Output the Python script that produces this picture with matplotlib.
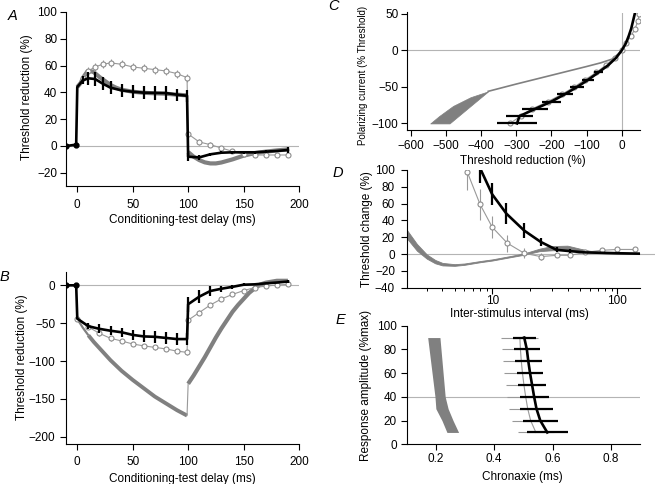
import numpy as np
import matplotlib
matplotlib.use('Agg')
import matplotlib.pyplot as plt
from matplotlib.ticker import NullFormatter

plt.rcParams['font.family'] = ['Liberation Sans', 'DejaVu Sans']
plt.rcParams['font.size'] = 8.5

# ---- panel A : depolarizing conditioning
a_x = [-10, -1, 0, 5, 10, 16, 23, 30, 40, 50, 60, 70, 80, 90, 99,
       100, 110, 120, 130, 140, 150, 160, 170, 180, 190]
a_black = [0, 1, 44, 49, 50.5, 50, 46.5, 43.5, 41.5, 40.5, 39.8, 39.6, 39.5, 38.3, 37.5,
           -8, -8.5, -6.2, -5, -4.7, -4.7, -4.7, -4.2, -3.7, -3]
a_black_err = [0, 0, 0, 3, 5, 5, 5, 5, 5, 5, 5, 5, 5, 4.5, 4.5,
               3, 2, 1, 1, 1, 1, 1, 1, 1, 2.5]
a_circ = [0, 0.5, 44, 51, 56, 59, 61, 62, 61, 59, 58, 57, 56, 54, 51,
          9, 3, 1, -1.5, -4, -6, -6.7, -6.7, -6.7, -6.7]
a_circ_err = [0, 0, 0, 2, 3, 3, 3, 3, 3, 3, 3, 3, 3, 3, 3,
              2, 2, 2, 1.5, 1.5, 1.5, 1.5, 1.5, 1.5, 1.5]
a_m1_x = [0, 3, 6, 9, 12, 15, 20, 25, 30, 35, 40, 50, 60, 70, 80, 90, 99]
a_m1_y = [44, 47, 52, 55.5, 56, 55, 51.5, 48.5, 45.5, 43.5, 42, 40.5, 39.7, 39.3, 39, 38.3, 37.8]
a_m2_x = [100, 105, 110, 115, 120, 125, 130, 140, 150, 160, 170, 180, 190]
a_m2_y = [-4.5, -8, -10.5, -12.2, -13, -13, -12.3, -10, -7.2, -5.3, -4.2, -3.3, -2.5]

# ---- panel B : hyperpolarizing conditioning
b_x = [-10, -1, 0, 10, 20, 30, 40, 50, 60, 70, 80, 90, 99,
       100, 110, 120, 130, 140, 150, 160, 170, 180, 190]
b_black = [0, 0, -44, -54, -57.5, -60, -62, -65.5, -67.5, -68, -69.5, -71, -71,
           -25, -15, -7.5, -4.5, -2, 0.8, 1.3, 2.6, 3.7, 5]
b_black_err = [0, 0, 0, 4, 6, 6, 6, 7, 8, 8, 8, 8, 8,
               10, 9, 6, 4, 3, 2, 1, 1, 1, 2]
b_circ = [0, 0, -45, -55, -63.5, -70, -73.5, -77.5, -80, -82, -84, -87, -88.5,
          -46, -36, -26, -18, -12, -7, -3, -1, 0.4, 1.3]
b_circ_err = [0, 0, 0, 2, 3, 3, 3, 3, 3, 3, 3, 3, 3,
              3, 3, 3, 2, 2, 2, 1.5, 1.5, 1.5, 1.5]
b_m1_x = [0, 2, 5, 10, 15, 20, 25, 30, 40, 50, 60, 70, 80, 90, 99]
b_m1_y = [-45, -49, -56, -66, -75, -83, -91, -99, -113, -125, -136, -147, -156, -165, -172]
b_m2_x = [100, 105, 110, 115, 120, 125, 130, 135, 140, 145, 150, 155, 160, 165, 170, 180, 190]
b_m2_y = [-130, -119, -107, -95, -82, -69, -57, -46, -35, -26, -18, -10, -4, 1, 3.5, 6, 6]

# ---- panel C : current-threshold
c_y = [-100, -90, -80, -70, -60, -50, -40, -30, -20, -10, 0, 10, 20, 30, 40, 50]
c_black = [-298, -291, -246, -200, -162, -127, -95, -66, -38, -16, 0, 12, 20, 27, 32, 37]
c_black_err = [56, 39, 37, 27, 22, 19, 17, 14, 0, 0, 0, 0, 0, 0, 0, 0]
c_circ = [-318, -288, -255, -210, -170, -135, -104, -72, -45, -20, 0, 12, 27, 38, 46, 50]
c_line_x = [0, -10, -28, -60, -100, -150, -200, -250, -300, -340, -380]
c_line_y = [0, -5, -12, -17, -22, -28, -34, -40, -46, -51, -56]
c_band_y = [-56, -64, -76, -90, -100]
c_band_left = [-380, -430, -480, -520, -545]
c_band_right = [-380, -400, -430, -465, -490]

# ---- panel D : recovery cycle
d_black_x = [8, 10, 13, 18, 24.4, 32.7, 42, 55, 75, 100, 150]
d_black = [102, 71, 48, 28, 14.5, 5, 3.5, 2, 1.5, 1, 0.5]
d_black_err = [17, 13, 12.5, 9, 5, 3, 2, 1, 1, 1, 0]
d_circ_x = [6.3, 8, 10, 13.2, 18, 24.4, 32.7, 42, 55, 75, 100, 138]
d_circ = [98, 59, 32, 13, 1, -3, -1.5, -1.5, 2, 4.5, 5.5, 5.5]
d_circ_err = [22, 18, 13, 10, 6, 4, 2, 2, 1, 1, 1, 1]
d_m_x = [2.07, 2.5, 3, 3.5, 4, 5, 6, 8, 10, 14, 18, 24, 30, 40, 50, 60, 80, 100, 150]
d_m_y = [24, 8, -3, -9, -12, -13, -12, -9, -7, -3, 0, 5, 7, 7.5, 5, 3, 1.5, 1, 0.5]
d_m_hw = [5, 4, 2.5, 2, 1.5, 1, 0.8, 0.7, 0.7, 0.7, 0.8, 1.5, 2.5, 2.5, 1.5, 1, 0.7, 0.5, 0.5]

# ---- panel E : chronaxie
e_y = [10, 20, 30, 40, 50, 60, 70, 80, 90]
e_black = [0.582, 0.558, 0.545, 0.537, 0.530, 0.523, 0.517, 0.512, 0.503]
e_black_err = [0.071, 0.06, 0.055, 0.05, 0.048, 0.046, 0.046, 0.044, 0.039]
e_circ = [0.543, 0.525, 0.515, 0.508, 0.502, 0.497, 0.493, 0.490, 0.488]
e_circ_err = [0.063] * 9
e_band_y = [10, 20, 30, 40, 90]
e_band_left = [0.238, 0.221, 0.200, 0.197, 0.172]
e_band_right = [0.278, 0.259, 0.242, 0.232, 0.214]

GREY = '#808080'
LGREY = '#999999'
ZERO = '#b4b4b4'

fig = plt.figure(figsize=(6.55, 4.84), dpi=100)


def make_ax(box):
    l, t, r, b = box
    ax = fig.add_axes([l / 655, 1 - b / 484, (r - l) / 655, (b - t) / 484])
    for s in ['top', 'right']:
        ax.spines[s].set_visible(False)
    for s in ['left', 'bottom']:
        ax.spines[s].set_linewidth(0.8)
    ax.tick_params(direction='out', length=4.5, width=0.8)
    return ax


def labels(ax, box, xl, yl, xpos, ypos, xpad, ypad, ysize=8.5):
    l, t, r, b = box
    ax.set_xlabel(xl, va='center')
    ax.xaxis.set_label_coords((xpos[0] - l) / (r - l), (b - xpos[1]) / (b - t))
    ax.set_ylabel(yl, va='center', fontsize=ysize)
    ax.yaxis.set_label_coords((ypos[0] - l) / (r - l), (b - ypos[1]) / (b - t))
    ax.tick_params(axis='x', pad=xpad)
    ax.tick_params(axis='y', pad=ypad)


def black_err(ax, x, y, yerr=None, xerr=None):
    ax.errorbar(x, y, yerr=yerr, xerr=xerr, color='k', lw=1.9, elinewidth=1.6,
                capsize=0, zorder=5)


def circ_err(ax, x, y, yerr=None, xerr=None, marker='o'):
    ax.errorbar(x, y, yerr=yerr, xerr=xerr, color=LGREY, lw=0.8, elinewidth=0.8,
                capsize=0, marker=marker, ms=3.6, mfc='white', mec='#8c8c8c',
                mew=0.8, zorder=3)


# ---- A
boxA = (66.2, 12, 299, 186.2)
ax = make_ax(boxA)
ax.axhline(0, color=ZERO, lw=0.8, zorder=0)
ax.plot(a_m1_x, a_m1_y, color=GREY, lw=3, solid_capstyle='butt', zorder=2)
ax.plot([a_m1_x[-1], a_m2_x[0]], [a_m1_y[-1], a_m2_y[0]], color=GREY, lw=0.8, zorder=2)
ax.plot(a_m2_x, a_m2_y, color=GREY, lw=3, solid_capstyle='butt', zorder=2)
circ_err(ax, a_x[3:], a_circ[3:], yerr=a_circ_err[3:])
ax.plot(a_x[:4], a_circ[:4], color=LGREY, lw=0.8, zorder=3)
black_err(ax, a_x, a_black, yerr=a_black_err)
ax.plot(a_x[:2], a_black[:2], 'o', color='k', ms=3.5, zorder=6)
ax.set_xlim(-10, 200)
ax.set_ylim(-30, 100)
ax.set_xticks([0, 50, 100, 150, 200])
ax.set_yticks([-20, 0, 20, 40, 60, 80, 100])
labels(ax, boxA, 'Conditioning-test delay (ms)', 'Threshold reduction (%)',
       (182.5, 220.3), (27, 97), 5, 2)

# ---- B
boxB = (66.2, 271.7, 299, 444.3)
ax = make_ax(boxB)
ax.axhline(0, color=ZERO, lw=0.8, zorder=0)
ax.plot(b_m1_x[:4], b_m1_y[:4], color=GREY, lw=1.6, solid_capstyle='butt', zorder=2)
ax.plot(b_m1_x[3:], b_m1_y[3:], color=GREY, lw=2.8, solid_capstyle='butt', zorder=2)
ax.plot([b_m1_x[-1], b_m2_x[0]], [b_m1_y[-1], b_m2_y[0]], color=LGREY, lw=0.8, zorder=2)
ax.plot(b_m2_x, b_m2_y, color=GREY, lw=3, solid_capstyle='butt', zorder=2)
circ_err(ax, b_x[2:], b_circ[2:], yerr=b_circ_err[2:])
black_err(ax, b_x, b_black, yerr=b_black_err)
ax.plot(b_x[:2], b_black[:2], 'o', color='k', ms=3.5, zorder=6)
ax.set_xlim(-10, 200)
ax.set_ylim(-210, 18)
ax.set_xticks([0, 50, 100, 150, 200])
ax.set_yticks([-200, -150, -100, -50, 0])
labels(ax, boxB, 'Conditioning-test delay (ms)', 'Threshold reduction (%)',
       (182.5, 479.3), (21.7, 357), 4, 3.4)

# ---- C
boxC = (406.7, 12.5, 640, 130)
ax = make_ax(boxC)
ax.axhline(0, color=ZERO, lw=0.8, zorder=0)
ax.axvline(0, color=ZERO, lw=0.8, zorder=0)
ax.fill_betweenx(c_band_y, c_band_left, c_band_right, color=GREY, lw=0.5, zorder=2)
ax.plot(c_line_x, c_line_y, color=GREY, lw=1.2, zorder=2)
circ_err(ax, c_circ, c_y)
black_err(ax, c_black, c_y, xerr=c_black_err)
ax.set_xlim(-612, 52)
ax.set_ylim(-109, 52)
ax.set_xticks(range(-600, 1, 100))
ax.set_yticks([-100, -50, 0, 50])
labels(ax, boxC, 'Threshold reduction (%)', 'Polarizing current (% Threshold)',
       (523, 161), (363, 75), 3, 1.5, ysize=7)

# ---- D
boxD = (406.7, 170, 640, 287.7)
ax = make_ax(boxD)
ax.set_xscale('log')
ax.plot([2.07, 210], [0, 0], color=ZERO, lw=0.8, zorder=0, clip_on=False)
lo = np.array(d_m_y) - np.array(d_m_hw)
hi = np.array(d_m_y) + np.array(d_m_hw)
ax.fill_between(d_m_x, lo, hi, color=GREY, lw=0.6, edgecolor=GREY, zorder=2)
circ_err(ax, d_circ_x, d_circ, yerr=d_circ_err)
black_err(ax, d_black_x, d_black, yerr=d_black_err)
ax.set_xlim(2.07, 152)
ax.set_ylim(-40, 100)
ax.set_xticks([10, 100])
ax.set_xticklabels(['10', '100'])
ax.xaxis.set_minor_formatter(NullFormatter())
ax.tick_params(axis='x', which='minor', length=2.5, width=0.7)
ax.set_yticks(range(-40, 101, 20))
labels(ax, boxD, 'Inter-stimulus interval (ms)', 'Threshold change (%)',
       (519, 314.3), (367, 228.8), 1, 3.9)

# ---- E
boxE = (406.7, 325.7, 640, 444.3)
ax = make_ax(boxE)
ax.axhline(40, color=ZERO, lw=0.8, zorder=0)
ax.fill_betweenx(e_band_y, e_band_left, e_band_right, color=GREY, lw=0, zorder=2)
circ_err(ax, e_circ, e_y, xerr=e_circ_err, marker=None)
black_err(ax, e_black, e_y, xerr=e_black_err)
ax.set_xlim(0.1, 0.9)
ax.set_ylim(0, 100)
ax.set_xticks([0.2, 0.4, 0.6, 0.8])
ax.set_yticks(range(0, 101, 20))
labels(ax, boxE, 'Chronaxie (ms)', 'Response amplitude (%max)',
       (522, 476.7), (366, 385), 1.8, 2.7)

# panel letters
for letter, (px, py) in zip('ABCDE', [(12.5, 15.5), (4, 277), (333, 6), (337.5, 173), (340, 320)]):
    fig.text(px / 655, 1 - py / 484, letter, fontsize=10.5, style='italic',
             ha='center', va='center')

fig.savefig('out.png', dpi=100)
